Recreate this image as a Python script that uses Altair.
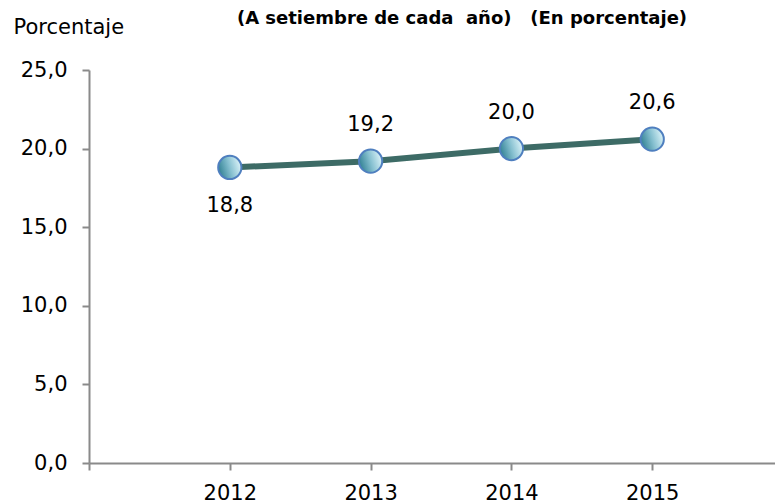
import altair as alt
import pandas as pd

years = [2012, 2013, 2014, 2015]
values = [18.8, 19.2, 20.0, 20.6]
label_side = ["below", "above", "above", "above"]
labels = [f"{v:.1f}".replace(".", ",") for v in values]
y_ticks = [0, 5, 10, 15, 20, 25]
x_ticks = [2011, 2012, 2013, 2014, 2015]
title_text = "(A setiembre de cada\u00a0 año)\u00a0\u00a0 (En porcentaje)"
y_title = "Porcentaje"

df = pd.DataFrame({"year": years, "value": values, "label": labels, "side": label_side})

FONT = "DejaVu Sans"
AXIS_GREY = "#8a8a8a"

x_enc = alt.X(
    "year:Q",
    scale=alt.Scale(domain=[2011, 2015.872], nice=False, zero=False),
    axis=alt.Axis(
        values=x_ticks,
        labelExpr="datum.value == 2011 ? '' : format(datum.value, 'd')",
        title=None,
        labelPadding=12,
        labelFlush=False,
        labelOverlap=False,
    ),
)
y_enc = alt.Y(
    "value:Q",
    scale=alt.Scale(domain=[0, 25], nice=False),
    axis=alt.Axis(
        values=y_ticks,
        labelExpr="replace(format(datum.value, '.1f'), '.', ',')",
        labelPadding=15,
        title=y_title,
        titleAngle=0,
        titleX=-76,
        titleY=-37,
        titleAlign="left",
        titleBaseline="alphabetic",
    ),
)

base = alt.Chart(df)

line = base.mark_line(color="#3d6b66", strokeWidth=6).encode(x=x_enc, y=y_enc)

grad = alt.Gradient(
    gradient="linear",
    stops=[
        alt.GradientStop(color="#2f7f92", offset=0),
        alt.GradientStop(color="#86c0d0", offset=0.5),
        alt.GradientStop(color="#dff5fa", offset=1),
    ],
    x1=0, y1=0.65, x2=1, y2=0.35,
)
points = base.mark_point(
    shape="circle", filled=True, size=540, fill=grad, stroke="#4f7fbf",
    strokeWidth=2, opacity=1, fillOpacity=1,
).encode(x="year:Q", y="value:Q")

above = base.transform_filter(alt.datum.side == "above").mark_text(
    dy=-30, baseline="alphabetic", align="center", fontSize=21, font=FONT, color="black"
).encode(x="year:Q", y="value:Q", text="label:N")

below = base.transform_filter(alt.datum.side == "below").mark_text(
    dy=45, baseline="alphabetic", align="center", fontSize=21, font=FONT, color="black"
).encode(x="year:Q", y="value:Q", text="label:N")

title = alt.Chart(pd.DataFrame({"t": [title_text]})).mark_text(
    fontWeight="bold", fontSize=18, font=FONT, baseline="alphabetic", align="center", color="black"
).encode(x=alt.value(373), y=alt.value(-46), text="t:N")

chart = (
    alt.layer(line, points, above, below, title)
    .properties(
        width=686,
        height=393,
        autosize="none",
        padding={"left": 81, "top": 62, "right": 0, "bottom": 40},
        background="white",
    )
    .configure_view(stroke=None)
    .configure_axis(
        grid=False,
        domainColor=AXIS_GREY,
        domainWidth=2,
        tickColor=AXIS_GREY,
        tickWidth=2,
        tickSize=7,
        labelFont=FONT,
        labelFontSize=21,
        labelColor="black",
        titleFont=FONT,
        titleFontSize=21,
        titleFontWeight="normal",
        titleColor="black",
    )
)

chart.save("out.html", embed_options={"renderer": "svg", "actions": False})
